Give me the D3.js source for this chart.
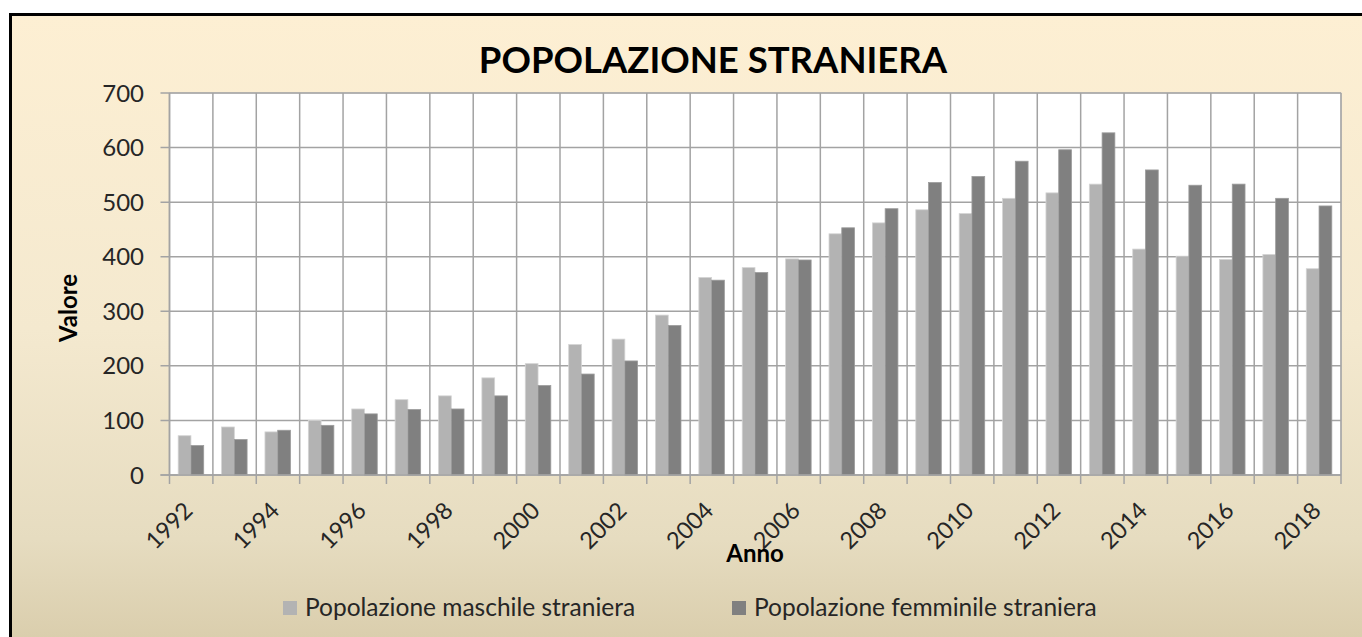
<!DOCTYPE html>
<html>
<head>
<meta charset="utf-8">
<script src="https://cdn.jsdelivr.net/npm/d3@7"></script>
<style>
  html, body { margin: 0; padding: 0; background: #fff; }
  svg { display: block; font-family: Lato, "Open Sans", sans-serif; }
</style>
</head>
<body>
<div id="chart"></div>
<script>
// categories and values
const years = ["1992", "1993", "1994", "1995", "1996", "1997", "1998", "1999", "2000",
  "2001", "2002", "2003", "2004", "2005", "2006", "2007", "2008", "2009", "2010",
  "2011", "2012", "2013", "2014", "2015", "2016", "2017", "2018"];
const maschile = [72, 88, 79, 100, 121, 138, 145, 178, 204, 239, 249, 293, 362, 380,
  396, 442, 462, 486, 479, 507, 517, 533, 414, 401, 395, 404, 378];
const femminile = [54, 65, 82, 91, 112, 120, 121, 145, 164, 185, 209, 274, 357, 371,
  394, 453, 488, 536, 547, 575, 596, 627, 559, 531, 533, 507, 493];
const seriesNames = ["Popolazione maschile straniera", "Popolazione femminile straniera"];
const seriesColors = ["#b3b3b3", "#808080"];
const xTickLabels = ["1992", "1994", "1996", "1998", "2000", "2002", "2004", "2006",
  "2008", "2010", "2012", "2014", "2016", "2018"];
const yTicks = [0, 100, 200, 300, 400, 500, 600, 700];

const width = 1362, height = 637;
const plot = { left: 169.5, right: 1341, top: 93, bottom: 475 };

const svg = d3.select('#chart')
  .append('svg')
  .attr('width', width)
  .attr('height', height);

// background gradient of the chart area
const grad = svg.append('defs').append('linearGradient')
  .attr('id', 'bg')
  .attr('x1', 0).attr('y1', 0).attr('x2', 0).attr('y2', 1);
[[0, '#fdefd3'], [0.45, '#f4e9cf'], [0.75, '#e6dcc0'], [1, '#d1c39e']]
  .forEach(([o, c]) => grad.append('stop').attr('offset', o).attr('stop-color', c));

svg.append('rect')
  .attr('x', 10.5).attr('y', 14.5)
  .attr('width', 1400).attr('height', 700)
  .attr('fill', 'url(#bg)')
  .attr('stroke', '#000')
  .attr('stroke-width', 3);

// scales
const x0 = d3.scaleBand()
  .domain(years)
  .range([plot.left, plot.right])
  .padding(0);
const bw = x0.bandwidth() / 3.4;
const x1 = d3.scaleBand()
  .domain([0, 1])
  .range([0.68 * bw, 2.68 * bw]);
const y = d3.scaleLinear()
  .domain([0, 700])
  .range([plot.bottom, plot.top]);

// plot area
svg.append('rect')
  .attr('x', plot.left).attr('y', plot.top)
  .attr('width', plot.right - plot.left).attr('height', plot.bottom - plot.top)
  .attr('fill', '#fff')
  .attr('stroke', '#c4c4c4');

// horizontal gridlines + y ticks
const grid = svg.append('g').attr('stroke', '#a3a3a3').attr('stroke-width', 1.5);
grid.selectAll('line.h')
  .data(yTicks)
  .enter().append('line')
  .attr('class', 'h')
  .attr('x1', plot.left - 9).attr('x2', plot.right)
  .attr('y1', d => y(d)).attr('y2', d => y(d));

// vertical gridlines at category boundaries + x ticks
const bounds = years.map(d => x0(d)).concat([plot.right]);
grid.selectAll('line.v')
  .data(bounds)
  .enter().append('line')
  .attr('class', 'v')
  .attr('x1', d => d).attr('x2', d => d)
  .attr('y1', plot.top).attr('y2', plot.bottom + 9);

// bars
const series = [maschile, femminile];
const strokes = ['#d4d4d4', '#9c9c9c'];
series.forEach((vals, si) => {
  svg.append('g')
    .selectAll('rect')
    .data(vals)
    .enter().append('rect')
    .attr('x', (d, i) => x0(years[i]) + x1(si))
    .attr('width', x1.bandwidth())
    .attr('y', d => y(d))
    .attr('height', d => y(0) - y(d))
    .attr('fill', seriesColors[si])
    .attr('stroke', strokes[si])
    .attr('stroke-width', 0.8);
});

// axis lines
svg.append('line')
  .attr('x1', plot.left).attr('x2', plot.left)
  .attr('y1', plot.top).attr('y2', plot.bottom)
  .attr('stroke', '#a3a3a3').attr('stroke-width', 1.5);
svg.append('line')
  .attr('x1', plot.left - 9).attr('x2', plot.right)
  .attr('y1', plot.bottom).attr('y2', plot.bottom)
  .attr('stroke', '#a3a3a3').attr('stroke-width', 1.5);

// y tick labels
svg.append('g')
  .selectAll('text')
  .data(yTicks)
  .enter().append('text')
  .attr('x', 144)
  .attr('y', d => y(d))
  .attr('dy', '0.36em')
  .attr('text-anchor', 'end')
  .attr('font-size', 24)
  .attr('fill', '#262626')
  .text(d => d);

// x tick labels, rotated
svg.append('g')
  .selectAll('text')
  .data(xTickLabels)
  .enter().append('text')
  .attr('transform', d => `translate(${x0(d) + x0.bandwidth() / 2 - 3},506) rotate(-45)`)
  .attr('dy', '0.36em')
  .attr('text-anchor', 'end')
  .attr('font-size', 23.5)
  .attr('fill', '#262626')
  .text(d => d);

// title
svg.append('text')
  .attr('x', 713).attr('y', 73)
  .attr('text-anchor', 'middle')
  .attr('font-size', 36.5)
  .attr('font-weight', 'bold')
  .attr('fill', '#000')
  .text('POPOLAZIONE STRANIERA');

// axis titles
svg.append('text')
  .attr('x', 755).attr('y', 562)
  .attr('text-anchor', 'middle')
  .attr('font-size', 24)
  .attr('font-weight', 'bold')
  .attr('fill', '#000')
  .text('Anno');
svg.append('text')
  .attr('transform', 'translate(77,308) rotate(-90)')
  .attr('text-anchor', 'middle')
  .attr('font-size', 24)
  .attr('font-weight', 'bold')
  .attr('fill', '#000')
  .text('Valore');

// legend
const legendX = [283, 732];
const legend = svg.append('g');
seriesNames.forEach((name, i) => {
  legend.append('rect')
    .attr('x', legendX[i]).attr('y', 601)
    .attr('width', 14).attr('height', 14)
    .attr('fill', seriesColors[i]);
  legend.append('text')
    .attr('x', legendX[i] + 22).attr('y', 616)
    .attr('font-size', 24.5)
    .attr('fill', '#262626')
    .text(name);
});
</script>
</body>
</html>
